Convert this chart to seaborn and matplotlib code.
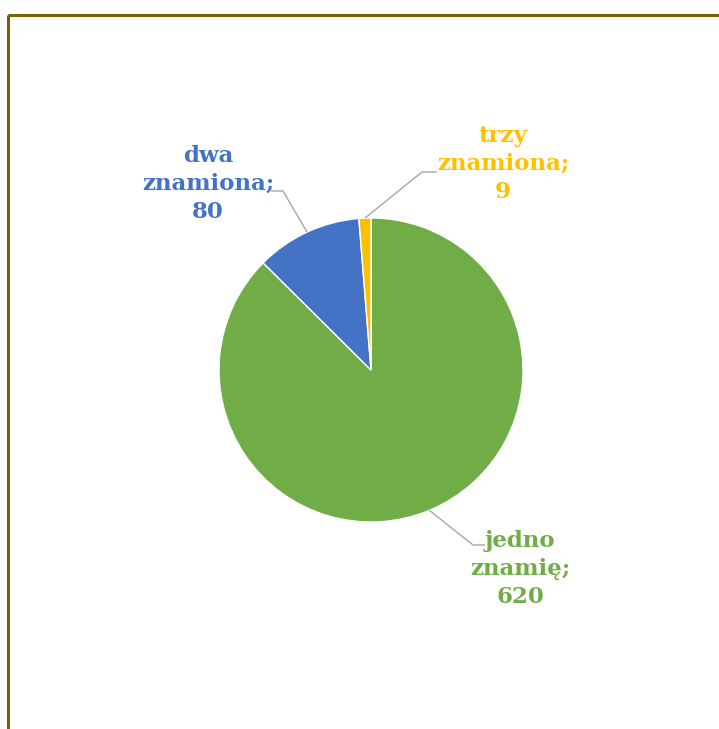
import numpy as np
import matplotlib
matplotlib.use("Agg")
import matplotlib.pyplot as plt
import seaborn as sns
from matplotlib.patches import Rectangle

# Liczba znamion u pacjentów
categories = ["jedno\nznamię", "dwa\nznamiona", "trzy\nznamiona"]
values = [620, 80, 9]
colors = ["#70AD47", "#4472C4", "#FFC000"]

sns.set_theme(style="white")
plt.rcParams["font.family"] = ["DejaVu Serif", "DejaVu Sans"]

W, H = 719, 729
fig = plt.figure(figsize=(W / 100, H / 100), dpi=100)
ax = fig.add_axes([0, 0, 1, 1])
ax.set_xlim(0, W)
ax.set_ylim(0, H)
ax.set_aspect("equal")
ax.axis("off")

cx, cy, R = 371, H - 370, 152
wedges, _ = ax.pie(values, colors=colors, startangle=90, counterclock=False,
                   center=(cx, cy), radius=R,
                   wedgeprops=dict(edgecolor="white", linewidth=1.0))
ax.set_xlim(0, W)
ax.set_ylim(0, H)

# label centre, elbow and line end for each slice
label_pos = [(520, H - 569), (208, H - 184), (503, H - 164)]
elbows = [((473, H - 545), (485, H - 545)),
          ((283, H - 191), (271, H - 191)),
          ((422, H - 172), (437, H - 172))]

for w, lab, val, col, (tx, ty), (e1, e2) in zip(wedges, categories, values,
                                                 colors, label_pos, elbows):
    mid = np.deg2rad((w.theta1 + w.theta2) / 2)
    ax0 = cx + R * np.cos(mid)
    ay0 = cy + R * np.sin(mid)
    ax.plot([ax0, e1[0], e2[0]], [ay0, e1[1], e2[1]], color="#A6A6A6",
            lw=1.0, solid_capstyle="butt")
    ax.text(tx, ty, f"{lab};\n{val}", ha="center", va="center",
            multialignment="center", color=col, fontsize=16.5,
            fontweight="bold", linespacing=1.38)

fig.patches.append(Rectangle((8, H - 15), 800, -800, transform=None,
                             fill=False, edgecolor="#7F6000", linewidth=2.2))

fig.savefig("out.png", dpi=100, facecolor="white")
